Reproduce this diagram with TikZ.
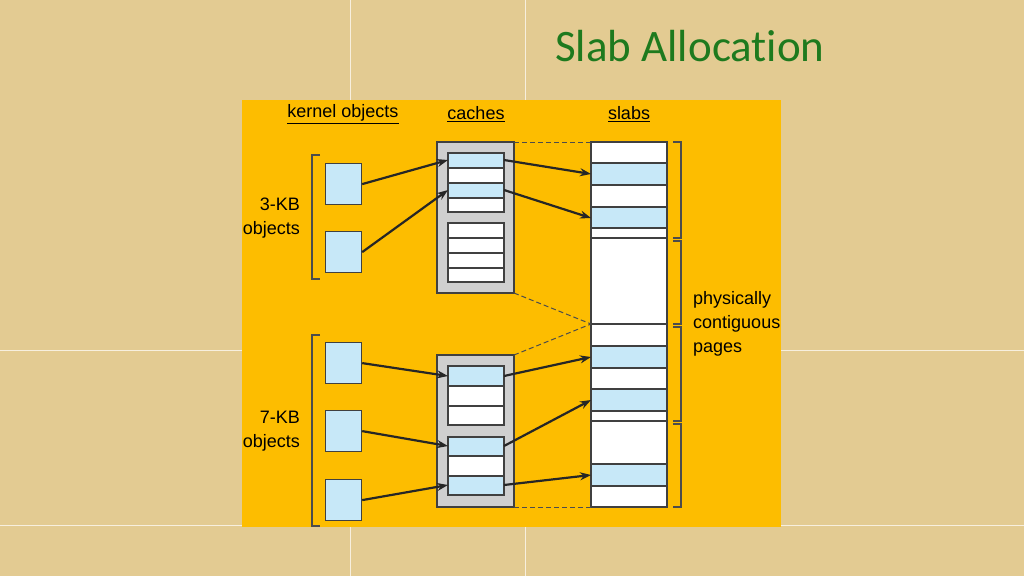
\documentclass[tikz,border=0pt]{standalone}
\usepackage{fontspec}
\setmainfont{Liberation Sans}
\newfontfamily\titlefont[Ligatures={NoCommon,NoRare}]{Carlito}
\usetikzlibrary{arrows.meta}
\definecolor{bg}{HTML}{E3CB92}
\definecolor{panel}{HTML}{FDBD00}
\definecolor{cellblue}{HTML}{C7E8F8}
\definecolor{cachegray}{HTML}{CFCFCF}
\definecolor{titlegreen}{HTML}{1E7A1E}
\tikzset{
  cell/.style={draw=black!75, line width=1.2pt},
  arr/.style={-{Stealth[length=11pt,width=8pt]}, line width=2.2pt, draw=black!85},
  brk/.style={draw=black!70, line width=1.1pt},
  dsh/.style={dash pattern=on 5pt off 3pt, draw=black!70, line width=1pt},
  lbl/.style={font=\fontsize{18}{24}\selectfont, inner sep=0pt},
}
\begin{document}
\begin{tikzpicture}[x=1pt,y=-1pt]
\useasboundingbox (0,0) rectangle (1024,576);
\fill[bg] (0,0) rectangle (1024,576);
\foreach \x in {350,525} \draw[white!70!bg, line width=1pt] (\x,0) -- (\x,576);
\foreach \y in {350,525} \draw[white!70!bg, line width=1pt] (0,\y) -- (1024,\y);
\node[text=titlegreen, font=\titlefont\fontsize{45}{50}\selectfont] (title) at (690,46) {Slab Allocation};
\fill[panel] (242,100) rectangle (781,527);
% headers
\node[lbl] (hk) at (343,114) {\underline{kernel objects}};
\node[lbl] (hc) at (476,114) {\underline{caches}};
\node[lbl] (hs) at (629,114) {\underline{slabs}};
% caches
\draw[cell, fill=cachegray] (437,142) rectangle (514,293);
\draw[cell, fill=cachegray] (437,355) rectangle (514,507);
\foreach \a/\b/\c in {153/168/cellblue,168/183/white,183/198/cellblue,198/212/white,
  223/238/white,238/253/white,253/268/white,268/282/white,
  366/386/cellblue,386/406/white,406/425/white,
  437/456/cellblue,456/476/white,476/495/cellblue}
  \draw[cell, fill=\c] (448,\a) rectangle (504,\b);
% slabs
\draw[cell, fill=white] (591,142) rectangle (667,507);
\foreach \a/\b in {163/185,207/228,346/368,389/411,464/486}
  \draw[cell, fill=cellblue] (591,\a) rectangle (667,\b);
\foreach \y in {238,324,421} \draw[cell] (591,\y) -- (667,\y);
% dashed
\draw[dsh] (514,142) -- (591,142);
\draw[dsh] (514,293) -- (591,324);
\draw[dsh] (514,355) -- (591,324);
\draw[dsh] (514,507) -- (591,507);
% right brackets
\foreach \a/\b in {142/238,241/324,327/421,424/507}
  \draw[brk] (673,\a) -- (681,\a) -- (681,\b) -- (673,\b);
% left brackets
\foreach \a/\b in {155/279,335/526}
  \draw[brk] (320,\a) -- (312,\a) -- (312,\b) -- (320,\b);
% objects
\foreach \n/\a in {o1/163,o2/231,o3/342,o4/410,o5/479}
  \node[cell, fill=cellblue, minimum width=36pt, minimum height=41pt, inner sep=0pt, anchor=north west] (\n) at (325,\a) {};
% coordinates
\coordinate (c1l) at (448,160); \coordinate (c1r) at (504,160);
\coordinate (c3l) at (448,190); \coordinate (c3r) at (504,190);
\coordinate (d1l) at (448,376); \coordinate (d1r) at (504,376);
\coordinate (d4l) at (448,446); \coordinate (d4r) at (504,446);
\coordinate (d6l) at (448,485); \coordinate (d6r) at (504,485);
\coordinate (s1) at (591,174); \coordinate (s2) at (591,218);
\coordinate (s3) at (591,357); \coordinate (s4) at (591,400); \coordinate (s5) at (591,475);
\draw[arr] (o1.east) -- (c1l);
\draw[arr] (o2.east) -- (c3l);
\draw[arr] (o3.east) -- (d1l);
\draw[arr] (o4.east) -- (d4l);
\draw[arr] (o5.east) -- (d6l);
\draw[arr] (c1r) -- (s1);
\draw[arr] (c3r) -- (s2);
\draw[arr] (d1r) -- (s3);
\draw[arr] (d4r) -- (s4);
\draw[arr] (d6r) -- (s5);
% labels
\node[lbl, align=right, anchor=east] (l3) at (300,218) {3-KB\\objects};
\node[lbl, align=right, anchor=east] (l7) at (300,431) {7-KB\\objects};
\node[lbl, align=left, anchor=west] (lp) at (693,324) {physically\\contiguous\\pages};
\end{tikzpicture}
\end{document}
